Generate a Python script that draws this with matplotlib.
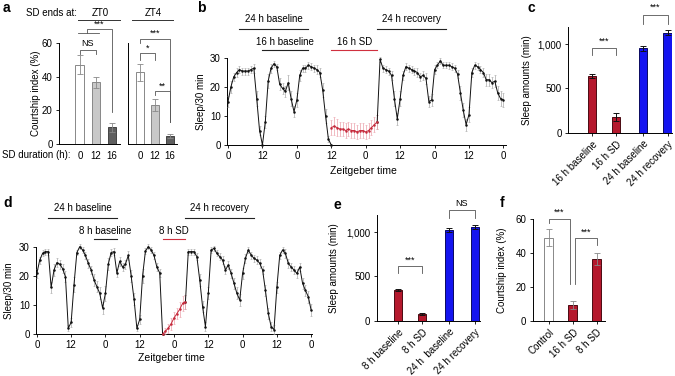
import numpy as np
import matplotlib
matplotlib.use("Agg")
import matplotlib.pyplot as plt

plt.rcParams['font.family'] = ['Liberation Sans', 'DejaVu Sans']

# panel a: courtship index after SD ending at ZT0 / ZT4
a_labels = ['0', '12', '16']
a_zt0 = [47, 36.5, 10]
a_zt0_err = [5.5, 3.5, 2.5]
a_zt4 = [42.5, 23, 5]
a_zt4_err = [5, 3.5, 1.2]

# panel b: sleep/30 min, hourly, 16 h SD
b_black1 = [15, 20, 23.5, 25, 26, 25.5, 25.5, 25.5, 26, 26.5, 16, 5, 0, 8, 22, 26.5, 28, 27,
            21, 19.5, 18.5, 21.5, 16, 11.5, 15.5, 24, 26.5, 26.5, 27.5, 27, 26.5, 26, 25, 19,
            10, 2, 0]
b_err1 = [2, 2, 1.5, 1.5, 1.2, 1.2, 1.2, 1.2, 1.2, 1.5, 2.5, 1.5, 0.3, 2, 2.5, 1.5, 1, 1, 2, 2,
          2, 2.5, 2.5, 2, 2.5, 2, 1.2, 1.2, 1.2, 1.2, 1.2, 1.5, 1.5, 2.5, 2.5, 1, 0.3]
b_red = [6, 6.5, 6, 5.5, 5.5, 5, 5.5, 5, 5, 4.5, 5, 5, 4.5, 5, 6, 7, 8]
b_err_red = [2.5, 3, 3, 2.5, 2.5, 2.5, 2.5, 2.5, 2.5, 2.5, 2.5, 2.5, 2.5, 2.5, 2.5, 2.5, 2.5]
b_black2 = [8, 29.5, 26.5, 26, 25.5, 24, 16, 9, 16, 24, 27, 26.5, 26, 25.5, 25, 23.5, 24, 23,
            15, 15.5, 26, 27.5, 29, 27.5, 27.5, 27.5, 27, 26.5, 24.5, 18, 12, 7, 10.5, 25, 27.5,
            27, 26, 25, 22.5, 22.5, 21.5, 22, 18, 16, 15.5]
b_err2 = [2.5, 1, 1.2, 1.2, 1.2, 1.5, 2.5, 2, 2.5, 1.5, 1.2, 1.2, 1.2, 1.2, 1.5, 1.5, 1.5, 2, 2, 2,
          1.5, 1, 1, 1, 1, 1.2, 1.2, 1.2, 1.5, 2.5, 2.5, 2, 2.5, 1.5, 1.2, 1.2, 1.2, 1.5, 2, 2,
          2, 2, 2.5, 2.5, 2.5]

# panel c
c_labels = ['16 h baseline', '16 h SD', '24 h baseline', '24 h recovery']
c_vals = [640, 175, 955, 1130]
c_err = [25, 45, 30, 30]

# panel d: sleep/30 min, hourly, 8 h SD
d_black1 = [20.8, 25.4, 27.7, 28.3, 28.3, 16, 22, 24.5, 24, 22.5, 19.7, 2, 4, 17, 28, 30, 28.9,
            27, 24.3, 22, 18.6, 16.3, 14, 9, 14, 24, 28, 28.3, 21, 25, 23, 24, 27, 20, 12, 2, 5,
            20, 28.5, 30, 28.9, 27, 23, 21, 0]
d_err1 = [1.5, 1.2, 1, 1, 1, 2, 2, 1.5, 1.5, 1.5, 2, 1, 1.5, 2.5, 1, 0.8, 1, 1.2, 1.5, 1.5,
          2, 2, 2, 2, 2.5, 2, 1.2, 1.2, 1.5, 1.5, 1.5, 1.5, 1.5, 2, 2, 1, 1.5, 2.5, 1,
          0.8, 1, 1.2, 1.5, 1.5, 0.2]
d_red = [0, 1, 2, 3.5, 5.5, 7, 8.5, 10.5, 11]
d_err_red = [0.3, 1, 1.5, 2, 2, 2, 2.5, 2.5, 2.5]
d_black2 = [11, 28.3, 28.3, 28.3, 26.6, 18.6, 9.4, 2.5, 14, 28.9, 29.4, 27.7, 26.6, 25.4, 22,
            23.7, 20.8, 17.4, 14, 11.7, 20.8, 26, 28.9, 27.1, 26, 25.4, 24.3, 22, 15, 7.1, 2.5,
            1.5, 16, 27, 28.9, 27.7, 24.3, 23, 22, 20.8, 23, 17.4, 15, 12.8, 8.2]
d_err2 = [2.5, 1, 1, 1, 1.2, 2, 2, 1.5, 2, 1, 0.8, 1, 1.2, 1.5, 1.5, 1.5, 1.5, 2, 2, 2,
          2, 1.5, 1, 1.2, 1.2, 1.5, 1.5, 1.5, 2, 2, 1.5, 1.5, 2, 1.2, 1, 1.5, 1.5, 1.5, 1.5, 1.5,
          1.5, 2, 2, 2, 2]

# panel e
e_labels = ['8 h baseline', '8 h SD', '24 h  baseline', '24 h recovery']
e_vals = [345, 75, 1025, 1058]
e_err = [10, 15, 20, 20]

# panel f
f_labels = ['Control', '16 h SD', '8 h SD']
f_vals = [49, 9.5, 36.5]
f_err = [5, 2.5, 3.5]

zt_ticks = ['0', '12', '0', '12', '0', '12', '0', '12', '0']

W, H = 675, 376
fig = plt.figure(figsize=(W / 100, H / 100), dpi=100)

RED = '#b5182d'
BLUE = '#1414f0'
LINE_RED = '#c62a3c'


def px_axes(x0, y0, x1, y1):
    return fig.add_axes([x0 / W, 1 - y1 / H, (x1 - x0) / W, (y1 - y0) / H])


def style(ax):
    for s in ['top', 'right']:
        ax.spines[s].set_visible(False)
    for s in ['left', 'bottom']:
        ax.spines[s].set_linewidth(0.7)
    ax.tick_params(labelsize=7, width=0.6, length=2.5, pad=2)


def bracket(ax, x0, x1, y, yl, yr, text, ty, color='#555555'):
    ax.plot([x0, x0, x1, x1], [yl, y, y, yr], color=color, lw=0.6, clip_on=False)
    ax.text((x0 + x1) / 2, ty, text, ha='center', va='center', fontsize=6.5, clip_on=False)


def trace(ax, x, y, e, color, ecolor):
    ax.errorbar(x, y, yerr=e, color=color, ecolor=ecolor, elinewidth=0.5, capsize=0.8,
                capthick=0.4, lw=0.7, marker='o', ms=0.8, zorder=3, clip_on=False)


def note(ax, x0, x1, y, text, ty, color='#222222'):
    ax.plot([x0, x1], [y, y], color=color, lw=0.8, clip_on=False)
    ax.text((x0 + x1) / 2, ty, text, ha='center', va='center', fontsize=7, clip_on=False)


# ---------- a ----------
a_cols = ['white', '#c8c8c8', '#5f5f5f']
a_edges = ['#888888', '#888888', '#444444']
ax1 = px_axes(59, 42.7, 120, 144.3)
ax2 = px_axes(128, 42.7, 177, 144.3)
for ax, vals, errs in [(ax1, a_zt0, a_zt0_err), (ax2, a_zt4, a_zt4_err)]:
    style(ax)
    x = np.arange(len(vals))
    ax.bar(x, vals, width=0.55, color=a_cols, edgecolor=a_edges, linewidth=0.7)
    ax.errorbar(x, vals, yerr=errs, fmt='none', ecolor='#888888', elinewidth=0.6,
                capsize=2, capthick=0.6)
    ax.set_ylim(0, 60)
    ax.set_xticks(x)
    ax.set_xticklabels(a_labels)
    ax.tick_params(axis='x', length=0, pad=5)
ax1.set_xlim(-1.3, 2.5)
ax2.set_xlim(-0.8, 2.45)
ax1.set_yticks([0, 20, 40, 60])
ax2.set_yticks([])
ax1.set_ylabel('Courtship index (%)', fontsize=7)
ax1.yaxis.set_label_coords(-0.295, 0.5)

bracket(ax1, 0, 1, 55.6, 53.5, 53.5, 'NS', 59.5)
ax1.plot([-0.1, 1.2], [65.7, 65.7], color='#555555', lw=0.6, clip_on=False)
ax1.plot([0.45, 0.45, 2, 2], [65.7, 68, 68, 19], color='#555555', lw=0.6, clip_on=False)
ax1.text(1.2, 71, '***', ha='center', va='center', fontsize=6.5)
bracket(ax2, 0, 2, 62.1, 59.8, 13.4, '***', 65.5)
bracket(ax2, 0, 1, 53.8, 49.9, 49.9, '*', 56.5)
bracket(ax2, 1, 2, 31.5, 29.2, 13.4, '**', 34.5)

fig.text(77 / W, 1 - 13 / H, 'SD ends at:', ha='right', va='center', fontsize=7)
fig.text(100 / W, 1 - 13 / H, 'ZT0', ha='center', va='center', fontsize=7)
fig.text(153 / W, 1 - 13 / H, 'ZT4', ha='center', va='center', fontsize=7)
fig.add_artist(plt.Line2D([78 / W, 120 / W], [1 - 20 / H, 1 - 20 / H], color='#333333', lw=0.7))
fig.add_artist(plt.Line2D([132 / W, 173 / W], [1 - 20 / H, 1 - 20 / H], color='#333333', lw=0.7))
fig.text(2 / W, 1 - 155 / H, 'SD duration (h):', ha='left', va='center', fontsize=7)

# ---------- b and d ----------
for box, xl, blk1, e1, red, er, blk2, e2, red_start, ylc, xlc, notes in [
        ((227, 58, 506, 145), (-0.35, 96.9), b_black1, b_err1, b_red, b_err_red, b_black2, b_err2, 36,
         -0.075, -0.24,
         [(4, 28, '24 h baseline', 0), (12, 28, '16 h baseline', 1), (36, 52, '16 h SD', 2),
          (52, 76, '24 h recovery', 0)]),
        ((36, 246.7, 312, 334), (-0.3, 96.3), d_black1, d_err1, d_red, d_err_red, d_black2, d_err2, 44,
         -0.08, -0.22,
         [(4, 28, '24 h baseline', 0), (20, 28, '8 h baseline', 1), (44, 52, '8 h SD', 2),
          (52, 76, '24 h recovery', 0)])]:
    ax = px_axes(*box)
    style(ax)
    h1 = np.arange(len(blk1))
    hr = np.arange(red_start, red_start + len(red))
    h2 = np.arange(52, 52 + len(blk2))
    trace(ax, h1, blk1, e1, '#111111', '#a8a8a8')
    trace(ax, h2, blk2, e2, '#111111', '#a8a8a8')
    trace(ax, hr, red, er, LINE_RED, '#eba0aa')
    ax.set_xlim(*xl)
    ax.set_ylim(0, 30)
    ax.set_yticks([0, 10, 20, 30])
    ax.set_xticks(np.arange(0, 97, 12))
    ax.set_xticklabels(zt_ticks)
    ax.set_ylabel('Sleep/30 min', fontsize=7)
    ax.yaxis.set_label_coords(ylc, 0.5)
    ax.set_xlabel('Zeitgeber time', fontsize=7.5)
    ax.xaxis.set_label_coords(0.49, xlc)
    for x0, x1, txt, kind in notes:
        if kind == 0:
            note(ax, x0, x1, 40, txt, 43.4)
        elif kind == 1:
            note(ax, x0, x1, 32.6, txt, 35.4)
        else:
            note(ax, x0, x1, 32.6, txt, 35.4, color='#d0303f')

# ---------- c and e ----------
bar_cols = [RED, RED, BLUE, BLUE]
bar_edges = ['#4a0a12', '#4a0a12', '#0a0a60', '#0a0a60']
for box, xl, pos, vals, errs, labels in [
        ((568, 26.6, 672, 132.7), (-0.98, 3.3), [0, 1, 2.12, 3.12], c_vals, c_err, c_labels),
        ((376.7, 214.6, 480, 320.7), (-0.9, 3.4), [0, 1, 2.1, 3.18], e_vals, e_err, e_labels)]:
    ax = px_axes(*box)
    style(ax)
    ax.bar(pos, vals, width=0.34, color=bar_cols, edgecolor=bar_edges, linewidth=0.7)
    ax.errorbar(pos, vals, yerr=errs, fmt='none', ecolor='#111111', elinewidth=0.7,
                capsize=2, capthick=0.7)
    ax.set_xlim(*xl)
    ax.set_ylim(0, 1200)
    ax.set_yticks([0, 500, 1000])
    ax.set_yticklabels(['0', '500', '1,000'])
    ax.set_xticks(pos)
    ax.set_xticklabels(labels, rotation=45, ha='right', rotation_mode='anchor')
    ax.set_ylabel('Sleep amounts (min)', fontsize=7)
    if ax.get_position().x0 > 0.8:
        ax.yaxis.set_label_coords(-0.35, 0.5)
        bracket(ax, 0, 1, 960, 880, 880, '***', 1040)
        bracket(ax, 2.12, 3.12, 1330, 1235, 1235, '***', 1418)
    else:
        ax.yaxis.set_label_coords(-0.365, 0.5)
        bracket(ax, 0, 1, 619, 536, 536, '***', 687)
        bracket(ax, 2.1, 3.18, 1252, 1158, 1158, 'NS', 1325)

# ---------- f ----------
ax = px_axes(532.7, 219, 605, 321)
style(ax)
xf = np.arange(len(f_vals))
ax.bar(xf, f_vals, width=0.37, color=['white', RED, RED],
       edgecolor=['#888888', '#4a0a12', '#4a0a12'], linewidth=0.7)
ax.errorbar(xf, f_vals, yerr=f_err, fmt='none', ecolor='#888888', elinewidth=0.6,
            capsize=2, capthick=0.6)
ax.set_xlim(-0.67, 2.34)
ax.set_ylim(0, 60)
ax.set_yticks([0, 20, 40, 60])
ax.set_xticks(xf)
ax.set_xticklabels(f_labels, rotation=45, ha='right', rotation_mode='anchor')
ax.set_ylabel('Courtship index (%)', fontsize=7)
ax.yaxis.set_label_coords(-0.355, 0.5)
bracket(ax, 0, 0.89, 60.1, 57.5, 22, '***', 64)
bracket(ax, 1.1, 2, 48.6, 22, 44.7, '***', 52.4)

# panel letters
for lab, x, y in [('a', 3, 8), ('b', 197, 8), ('c', 527, 8), ('d', 3, 203), ('e', 333, 205),
                  ('f', 500, 203)]:
    fig.text(x / W, 1 - y / H, lab, fontsize=10, fontweight='bold', ha='left', va='center')

fig.savefig('out.png', dpi=100)
